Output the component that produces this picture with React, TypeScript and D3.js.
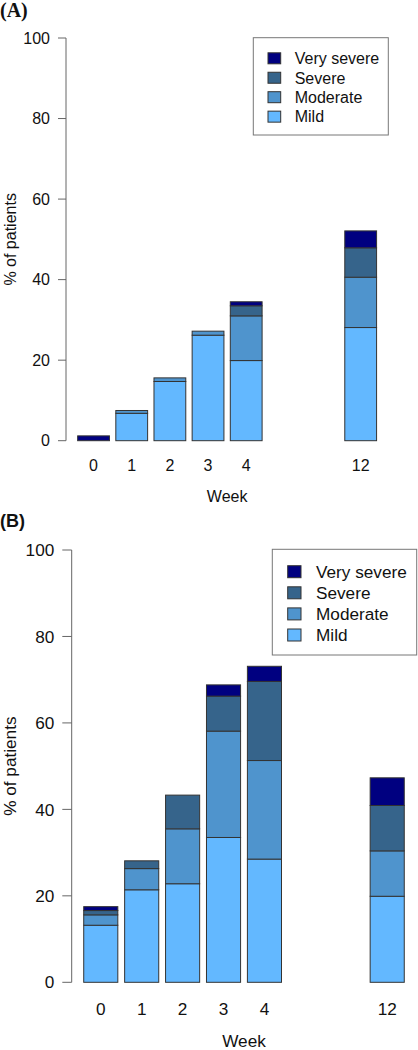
import React from "react";
import * as d3 from "d3";

// ---- data ----
const weeks = ["0", "1", "2", "3", "4", "12"];
const slots = [0, 1, 2, 3, 4, 7];
const severityLevels = ["Mild", "Moderate", "Severe", "Very severe"];
const severityColors = ["#63B8FF", "#4F94CD", "#36648B", "#000080"];
const yTicks = [0, 20, 40, 60, 80, 100];

const mildA = [0, 6.8, 14.7, 26.2, 19.9, 28.1];
const moderateA = [0, 0.7, 0.9, 1.0, 11.1, 12.5];
const severeA = [0, 0, 0, 0, 2.5, 7.3];
const verySevereA = [1.2, 0, 0, 0, 1.0, 4.2];

const mildB = [13.2, 21.4, 22.8, 33.5, 28.5, 19.9];
const moderateB = [2.4, 4.9, 12.7, 24.6, 22.8, 10.5];
const severeB = [1.0, 1.8, 7.8, 8.1, 18.3, 10.5];
const verySevereB = [0.9, 0, 0, 2.6, 3.5, 6.4];

type PanelCfg = {
  title: string;
  titleFont: string;
  titleSize: number;
  titleY: number;
  series: number[][];
  yTop: number;
  yBottom: number;
  axisX: number;
  tickLen: number;
  x0: number;
  unit: number;
  fs: number;
  tickLabelY: number;
  weekY: number;
  legend: { x: number; y: number; w: number; h: number; sqX: number; sqW: number; sqH: number; textX: number; rowY0: number; rowDy: number };
};

const SANS = "'Liberation Sans', Arial, sans-serif";

const panels: PanelCfg[] = [
  {
    title: "(A)",
    titleFont: "'Liberation Serif', 'Times New Roman', serif",
    titleSize: 20,
    titleY: 17,
    series: [mildA, moderateA, severeA, verySevereA],
    yTop: 38,
    yBottom: 440.7,
    axisX: 66,
    tickLen: 8,
    x0: 71.3,
    unit: 31.8,
    fs: 16,
    tickLabelY: 470.7,
    weekY: 502.3,
    legend: { x: 253.3, y: 37.7, w: 135, h: 97.3, sqX: 268, sqW: 12.7, sqH: 11, textX: 294.7, rowY0: 58.3, rowDy: 19.45 },
  },
  {
    title: "(B)",
    titleFont: SANS,
    titleSize: 18,
    titleY: 527,
    series: [mildB, moderateB, severeB, verySevereB],
    yTop: 550,
    yBottom: 982.3,
    axisX: 71.7,
    tickLen: 9.4,
    x0: 76.9,
    unit: 34.1,
    fs: 17.2,
    tickLabelY: 1015,
    weekY: 1046.5,
    legend: { x: 272.3, y: 549.3, w: 144.4, h: 105.7, sqX: 287.7, sqW: 13.3, sqH: 12, textX: 316, rowY0: 571.7, rowDy: 21.1 },
  },
];

function Panel({ cfg }: { cfg: PanelCfg }) {
  const y = d3.scaleLinear().domain([0, 100]).range([cfg.yBottom, cfg.yTop]);
  const x = d3.scaleLinear().domain([0, 1]).range([cfg.x0, cfg.x0 + cfg.unit]);
  const rows = weeks.map((w, i) => {
    const r: any = { week: w, slot: slots[i] };
    severityLevels.forEach((s, k) => (r[s] = cfg.series[k][i]));
    return r;
  });
  const stacked = d3.stack<any>().keys(severityLevels)(rows);
  const L = cfg.legend;
  const legendOrder = [3, 2, 1, 0];
  return (
    <g>
      <text x={0} y={cfg.titleY} fontFamily={cfg.titleFont} fontWeight="bold" fontSize={cfg.titleSize} fill="#111">
        {cfg.title}
      </text>
      {/* y axis */}
      <line x1={cfg.axisX} x2={cfg.axisX} y1={y(0)} y2={y(100)} stroke="#666" strokeWidth={1} />
      {yTicks.map((t) => (
        <g key={t}>
          <line x1={cfg.axisX - cfg.tickLen} x2={cfg.axisX} y1={y(t)} y2={y(t)} stroke="#666" strokeWidth={1} />
          <text
            x={cfg.axisX - cfg.tickLen - 8}
            y={y(t)}
            dy="0.36em"
            textAnchor="end"
            fontFamily={SANS}
            fontSize={cfg.fs}
            fill="#111"
          >
            {t}
          </text>
        </g>
      ))}
      <text
        transform={`translate(${10},${(y(0) + y(100)) / 2}) rotate(-90)`}
        textAnchor="middle"
        dy="0.36em"
        fontFamily={SANS}
        fontSize={cfg.fs}
        fill="#111"
      >
        % of patients
      </text>
      {/* bars */}
      {stacked.map((layer, k) =>
        layer.map((d, i) => {
          const h = y(d[0]) - y(d[1]);
          if (h <= 0) return null;
          const left = x(rows[i].slot * 1.2 + 0.2);
          return (
            <rect
              key={`${k}-${i}`}
              x={left}
              y={y(d[1])}
              width={cfg.unit}
              height={h}
              fill={severityColors[k]}
              stroke="#333"
              strokeWidth={1}
            />
          );
        })
      )}
      {rows.map((r) => (
        <text
          key={r.week}
          x={x(r.slot * 1.2 + 0.7)}
          y={cfg.tickLabelY}
          textAnchor="middle"
          fontFamily={SANS}
          fontSize={cfg.fs}
          fill="#111"
        >
          {r.week}
        </text>
      ))}
      <text
        x={(x(0.2) + x(9.6)) / 2}
        y={cfg.weekY}
        textAnchor="middle"
        fontFamily={SANS}
        fontSize={cfg.fs}
        fill="#111"
      >
        Week
      </text>
      {/* legend */}
      <rect x={L.x} y={L.y} width={L.w} height={L.h} fill="white" stroke="#777" strokeWidth={1} />
      {legendOrder.map((k, j) => (
        <g key={k}>
          <rect
            x={L.sqX}
            y={L.rowY0 + j * L.rowDy - L.sqH / 2}
            width={L.sqW}
            height={L.sqH}
            fill={severityColors[k]}
            stroke="#333"
            strokeWidth={1}
          />
          <text
            x={L.textX}
            y={L.rowY0 + j * L.rowDy}
            dy="0.36em"
            fontFamily={SANS}
            fontSize={cfg.fs}
            fill="#111"
          >
            {severityLevels[k]}
          </text>
        </g>
      ))}
    </g>
  );
}

export default function App() {
  return (
    <div style={{ position: "absolute", left: 0, top: 0, width: 418, height: 1050, background: "white" }}>
      <svg width={418} height={1050} style={{ display: "block" }}>
        <rect width={418} height={1050} fill="white" />
        {panels.map((p) => (
          <Panel key={p.title} cfg={p} />
        ))}
      </svg>
    </div>
  );
}
